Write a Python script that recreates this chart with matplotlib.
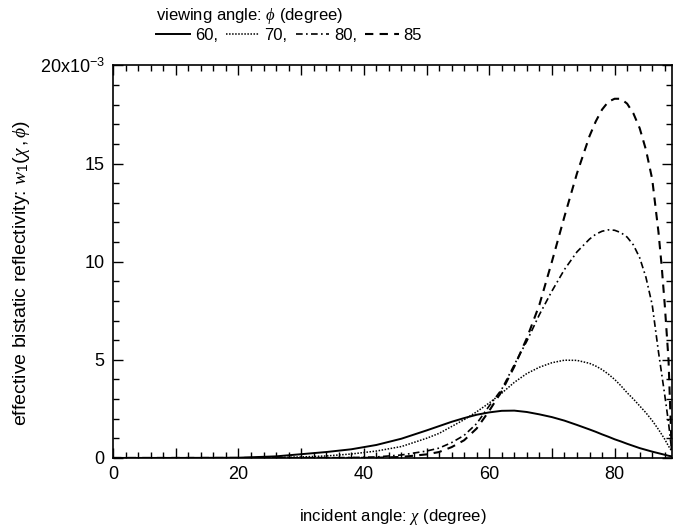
import matplotlib
matplotlib.use("Agg")
import matplotlib.pyplot as plt
from matplotlib.ticker import MultipleLocator, FuncFormatter

plt.rcParams["font.family"] = ["Liberation Sans", "DejaVu Sans"]
plt.rcParams["mathtext.fontset"] = "custom"
plt.rcParams["mathtext.rm"] = "Liberation Sans"
plt.rcParams["mathtext.it"] = "Liberation Serif:italic"

# incident angle chi (degree)
chi = [0, 10, 20, 26, 30, 34, 38, 42, 46, 50, 52, 54, 56, 58, 60, 62, 64, 66,
       68, 70, 72, 74, 76, 77, 78, 79, 80, 81, 82, 83, 84, 85, 86, 87, 87.5,
       88, 88.6, 89.1]

# effective bistatic reflectivity (x1e-3) for each viewing angle
w_60 = [0, 0, 0.01, 0.08, 0.19, 0.3, 0.44, 0.66, 0.98, 1.4, 1.62, 1.84, 2.03,
        2.2, 2.32, 2.4, 2.41, 2.34, 2.22, 2.08, 1.9, 1.68, 1.45, 1.33, 1.2,
        1.08, 0.95, 0.84, 0.72, 0.61, 0.5, 0.41, 0.32, 0.24, 0.2, 0.16, 0.11,
        0.08]
w_70 = [0, 0, 0, 0.02, 0.05, 0.1, 0.2, 0.35, 0.58, 1.0, 1.25, 1.6, 1.95, 2.35,
        2.8, 3.3, 3.85, 4.3, 4.62, 4.85, 4.98, 4.97, 4.82, 4.68, 4.5, 4.27,
        4.0, 3.68, 3.32, 3.0, 2.65, 2.3, 1.9, 1.45, 1.2, 0.95, 0.6, 0.35]
w_80 = [0, 0, 0, 0, 0, 0.01, 0.02, 0.05, 0.15, 0.35, 0.5, 0.78, 1.15, 1.75,
        2.65, 3.5, 4.75, 5.95, 7.3, 8.5, 9.6, 10.5, 11.15, 11.4, 11.55, 11.62,
        11.6, 11.48, 11.25, 10.85, 10.2, 9.2, 7.8, 5.4, 4.3, 3.2, 1.8, 0.4]
w_85 = [0, 0, 0, 0, 0, 0, 0, 0.01, 0.05, 0.18, 0.3, 0.55, 0.9, 1.5, 2.4, 3.4,
        4.65, 6.1, 7.8, 10.0, 12.3, 14.5, 16.4, 17.15, 17.75, 18.15, 18.3,
        18.3, 18.05, 17.55, 16.8, 15.7, 14.2, 11.5, 9.8, 7.8, 5.0, 0.4]

fig = plt.figure(figsize=(6.73, 5.30), dpi=100)
ax = fig.add_axes([0.168, 0.136, 0.830, 0.7406])

l60, = ax.plot(chi, w_60, color="black", linewidth=1.4, linestyle="-")
l70, = ax.plot(chi, w_70, color="black", linewidth=1.1, linestyle=(0, (1, 1)))
l80, = ax.plot(chi, w_80, color="black", linewidth=1.2, linestyle=(0, (4, 2, 1, 2)))
l85, = ax.plot(chi, w_85, color="black", linewidth=1.5, linestyle=(0, (4, 3)))

ax.set_xlim(0, 89.1)
ax.set_ylim(0, 20)

ax.xaxis.set_major_locator(MultipleLocator(10))
ax.xaxis.set_minor_locator(MultipleLocator(2))
ax.xaxis.set_major_formatter(FuncFormatter(lambda v, p: f"{v:.0f}" if round(v) % 20 == 0 else ""))
ax.yaxis.set_major_locator(MultipleLocator(5))
ax.yaxis.set_minor_locator(MultipleLocator(1))
ax.yaxis.set_major_formatter(FuncFormatter(
    lambda v, p: "20x10$^{-3}$" if round(v) == 20 else f"{v:.0f}"))

ax.tick_params(which="both", direction="in", top=True, right=True,
               labelsize=13, width=1.0)
ax.tick_params(which="major", length=7, pad=6)
ax.tick_params(which="minor", length=4)
for s in ax.spines.values():
    s.set_linewidth(1.2)

ax.set_xlabel(r"incident angle: $\chi$ (degree)", fontsize=12)
ax.xaxis.set_label_coords(0.5, -0.125)
ax.set_ylabel(r"effective bistatic reflectivity: $w_1(\chi\,,\phi)$", fontsize=14)
ax.yaxis.set_label_coords(-0.146, 0.47)

fig.legend([l60, l70, l80, l85], ["60,", "70,", "80,", "85"],
           title=r"viewing angle: $\phi$ (degree)", title_fontsize=12,
           fontsize=12, ncol=4, frameon=False, loc="upper left",
           bbox_to_anchor=(0.215, 1.01), handlelength=2.0,
           handletextpad=0.3, columnspacing=0.5, alignment="left",
           borderpad=0.2, labelspacing=0.1)

fig.savefig("out.png", dpi=100)
